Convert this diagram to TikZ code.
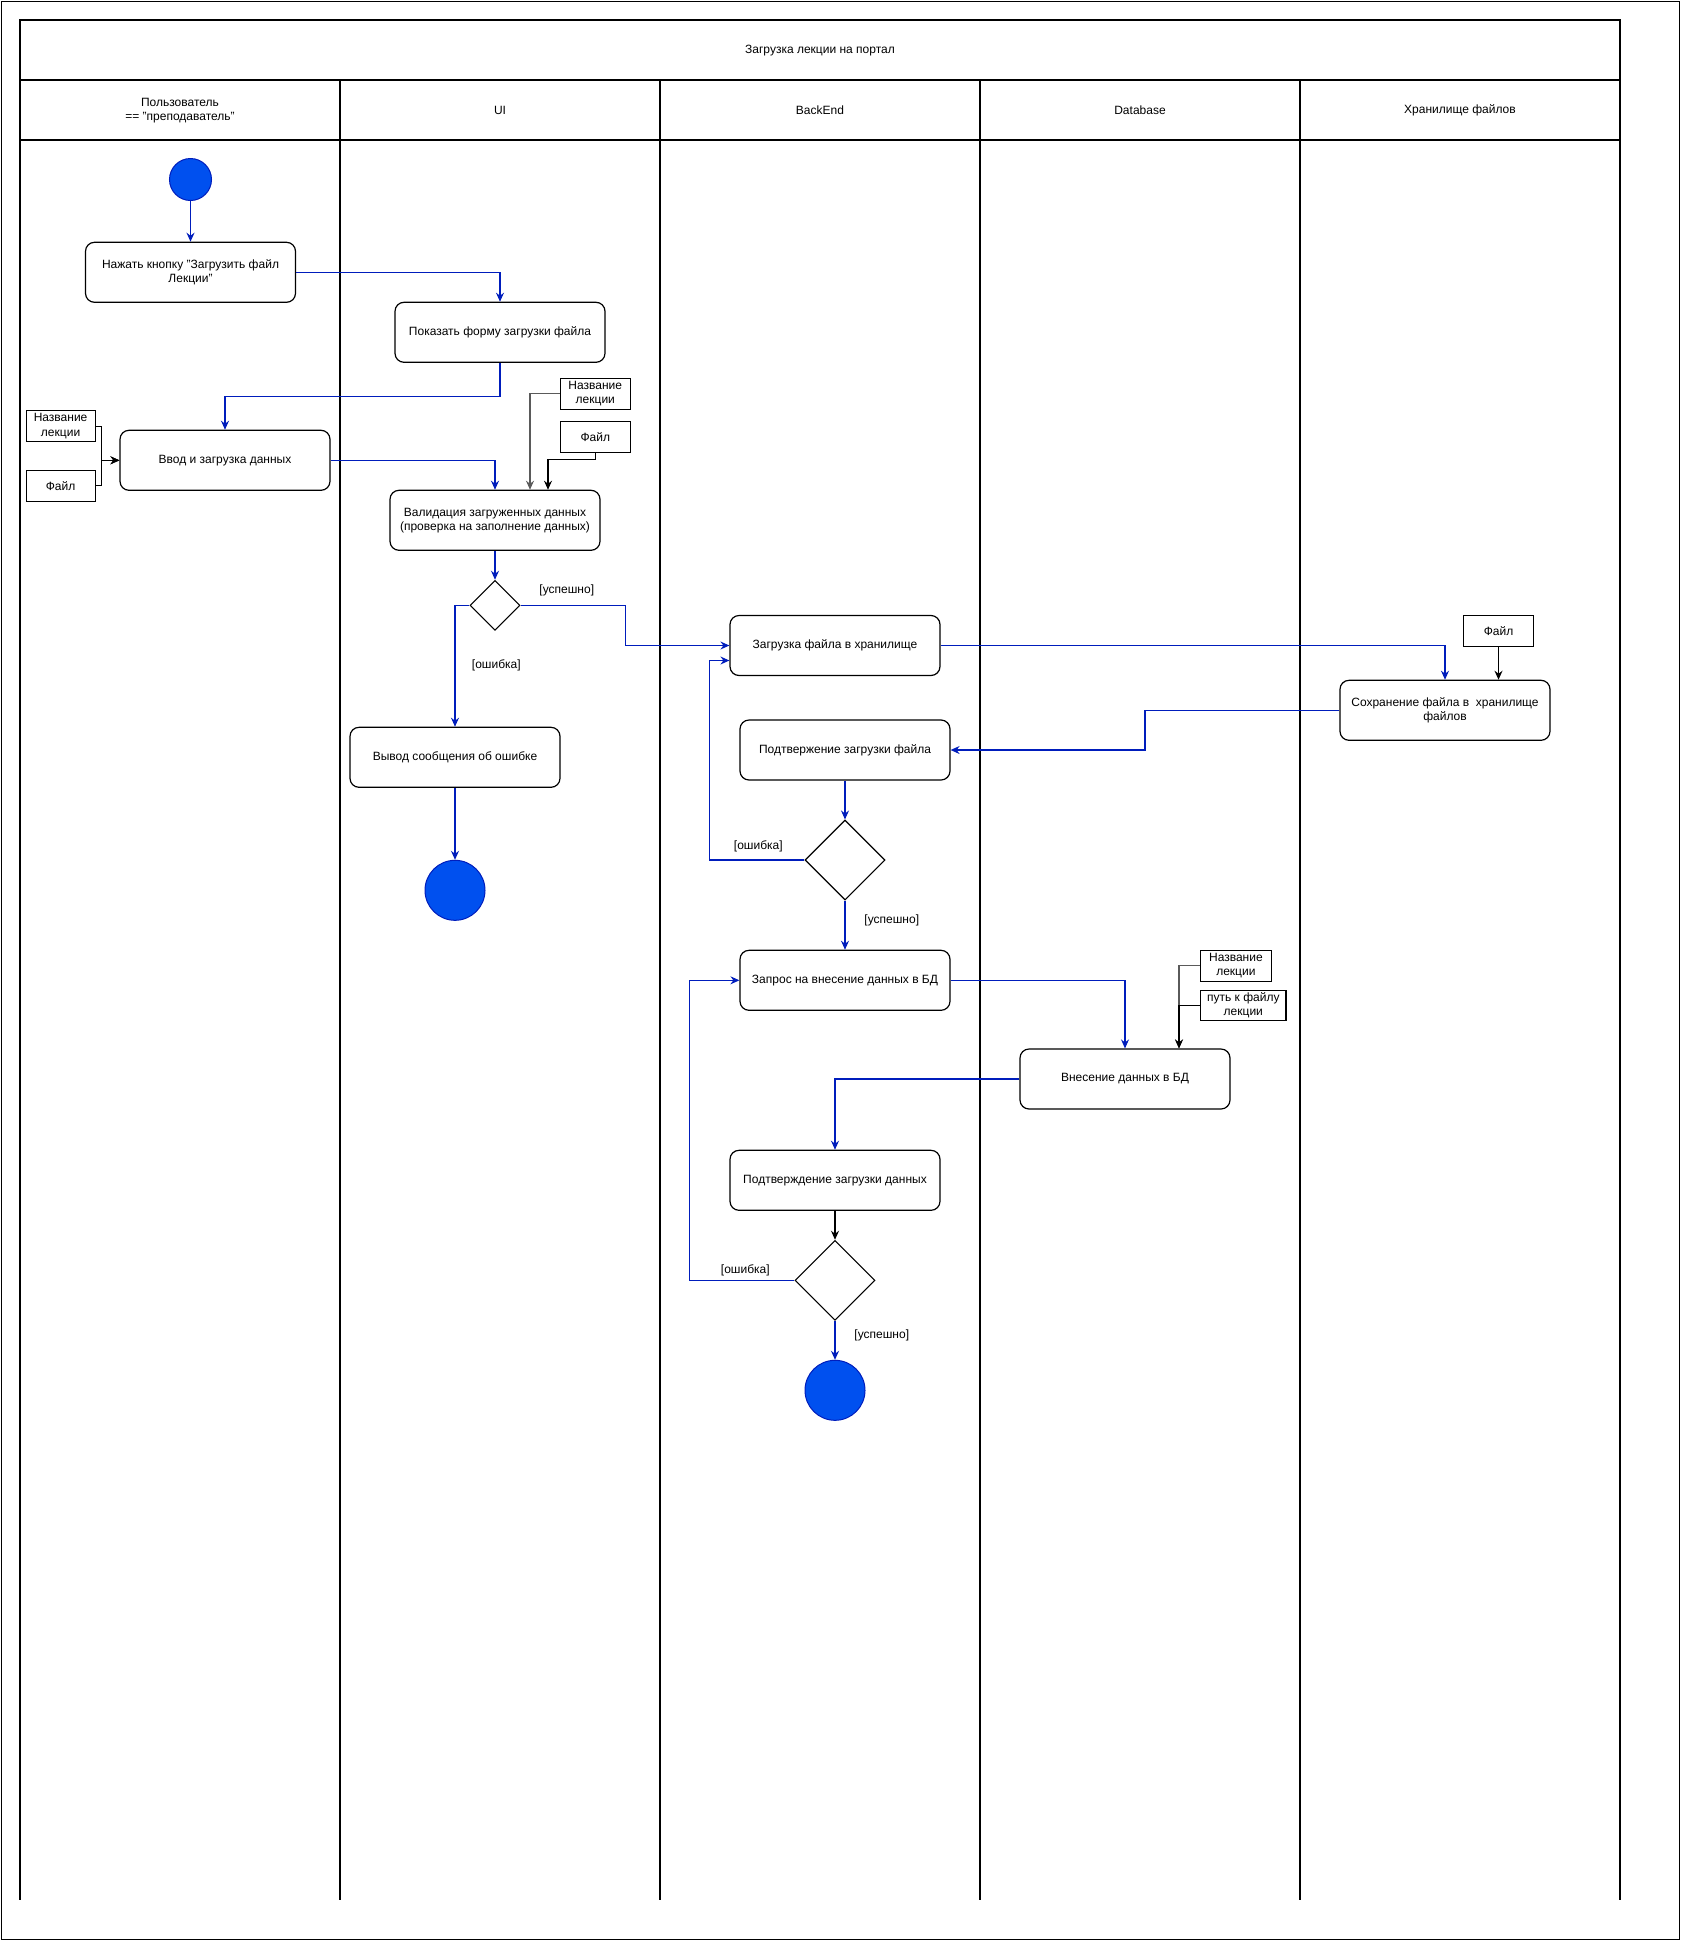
\documentclass[tikz,border=0pt]{standalone}
\usepackage{fontspec}
\setmainfont{Liberation Sans}
\usetikzlibrary{shapes.geometric,arrows.meta,calc}

\definecolor{flowblue}{HTML}{001DBC}
\definecolor{dotblue}{HTML}{0050EF}
\definecolor{pingray}{HTML}{5A5A5A}

\tikzset{
  every node/.style={font=\fontsize{12}{14.3}\selectfont},
  act/.style={draw, line width=1.2pt, rounded corners=9pt, minimum width=210pt,
    minimum height=60pt, align=center, inner sep=2pt},
  pin/.style={draw, line width=1.1pt, minimum height=31pt, align=center, inner sep=1pt},
  dec/.style={draw, diamond, line width=1.1pt, inner sep=0pt, minimum width=#1, minimum height=#1},
  dot/.style={circle, fill=dotblue, draw=flowblue, line width=1pt, minimum size=#1, inner sep=0pt},
  tip/.style={-{Stealth[length=9pt,width=8pt,inset=3pt]}},
  flow/.style={draw=flowblue, line width=1.1pt, tip},
  blk/.style={draw=black, line width=1.1pt, tip},
  gline/.style={draw=pingray, line width=1.1pt, tip},
  guard/.style={inner sep=0pt},
  lane/.style={line width=1.2pt},
  lanehead/.style={align=center}
}

\begin{document}
\begin{tikzpicture}[x=1pt,y=-1pt]
\useasboundingbox (0,0) rectangle (1681,1941);

% outer frame
\draw[line width=1.6pt] (1.5,1.5) rectangle (1679.5,1939.5);

% pool with title row, lane headers and lane dividers
\draw[lane] (20,20) rectangle (1620,80);
\draw[lane] (20,140) -- (1620,140);
\foreach \xx in {20,340,660,980,1300,1620}
  \draw[lane] (\xx,80) -- (\xx,1900);

\node (title) at (820,50.5) {Загрузка лекции на портал};
\node[lanehead] (h1) at (180,110.5) {Пользователь\\== "преподаватель"};
\node[lanehead] (h2) at (500,110.5) {UI};
\node[lanehead] (h3) at (820,110.5) {BackEnd};
\node[lanehead] (h4) at (1140,110.5) {Database};
\node[lanehead] (h5) at (1460,110.5) {Хранилище файлов};

% user lane
\node[dot=42pt] (st) at (190.5,179.5) {};
\node[act] (a) at (190.5,272.3) {Нажать кнопку "Загрузить файл\\Лекции"};
\node[act] (c) at (225,460.3) {Ввод и загрузка данных};
\node[pin, minimum width=69pt] (pa1) at (60.6,426.2) {Название\\лекции};
\node[pin, minimum width=69pt] (pa2) at (60.6,485.8) {Файл};

% UI lane
\node[act] (b) at (500,332.3) {Показать форму загрузки файла};
\node[pin, minimum width=70pt] (pd1) at (595.3,393.8) {Название\\лекции};
\node[pin, minimum width=70pt] (pd2) at (595.3,436.8) {Файл};
\node[act] (d) at (495,520.3) {Валидация загруженных данных\\(проверка на заполнение данных)};
\node[dec=50pt] (q1) at (495,605.3) {};
\node[act] (f) at (455,757.3) {Вывод сообщения об ошибке};
\node[dot=60pt] (end1) at (455,890.3) {};

% BackEnd lane
\node[act] (e) at (835,645.5) {Загрузка файла в хранилище};
\node[act] (h) at (845,750) {Подтвержение загрузки файла};
\node[dec=80pt] (q2) at (845,860) {};
\node[act] (i) at (845,980.3) {Запрос на внесение данных в БД};
\node[act] (k) at (835,1180.3) {Подтверждение загрузки данных};
\node[dec=80pt] (q3) at (835,1280.3) {};
\node[dot=60pt] (end2) at (835,1390.3) {};

% Database lane
\node[act] (j) at (1125,1079) {Внесение данных в БД};
\node[pin, minimum width=70.6pt] (pj1) at (1235.9,965.8) {Название\\лекции};
\node[pin, minimum width=85.4pt, minimum height=30pt] (pj2) at (1243.3,1005.3) {путь к файлу\\лекции};

% file storage lane
\node[act] (g) at (1445,710.3) {Сохранение файла в\ \ хранилище\\файлов};
\node[pin, minimum width=70pt] (pg) at (1498.5,630.8) {Файл};

% guard labels
\node[guard] (l1) at (566.8,590) {[успешно]};
\node[guard] (l2) at (496.3,665.8) {[ошибка]};
\node[guard] (l3) at (758.3,846) {[ошибка]};
\node[guard] (l4) at (891.8,920) {[успешно]};
\node[guard] (l5) at (745.3,1270.2) {[ошибка]};
\node[guard] (l6) at (881.8,1335) {[успешно]};

% control flow
\draw[flow] (st.south) -- (a.north);
\draw[flow] (a.east) -| (b.north);
\draw[flow] (b.south) -- ++(0,34) -| (c.north);
\draw[blk] (pa1.east) -- ++(5.5,0) |- (c.west);
\draw[blk] (pa2.east) -- ++(5.5,0) |- (c.west);
\draw[flow] (c.east) -| (d.north);
\draw[gline] (pd1.west) -| ($(d.north)+(35,0)$);
\draw[blk] (pd2.south) -- ++(0,7) -| ($(d.north)+(53,0)$);
\draw[flow] (d.south) -- (q1.north);
\draw[flow] (q1.east) -- ++(105,0) |- (e.west);
\draw[flow] (q1.west) -| (f.north);
\draw[flow] (f.south) -- (end1.north);

\draw[flow] (e.east) -| (g.north);
\draw[blk] (pg.south) -- (pg.south |- g.north);
\draw[flow] (g.west) -- ++(-194.4,0) |- (h.east);
\draw[flow] (h.south) -- (q2.north);
\draw[flow] (q2.west) -- ++(-95,0) |- ($(e.west)+(0,15)$);
\draw[flow] (q2.south) -- (i.north);

\draw[flow] (i.east) -| (j.north);
\draw[gline] (pj1.west) -| ($(j.north)+(54,0)$);
\draw[blk] (pj2.west) -| ($(j.north)+(54,0)$);
\draw[flow] (j.west) -| (k.north);
\draw[blk] (k.south) -- (q3.north);
\draw[flow] (q3.west) -- ++(-105,0) |- (i.west);
\draw[flow] (q3.south) -- (end2.north);
\end{tikzpicture}
\end{document}
